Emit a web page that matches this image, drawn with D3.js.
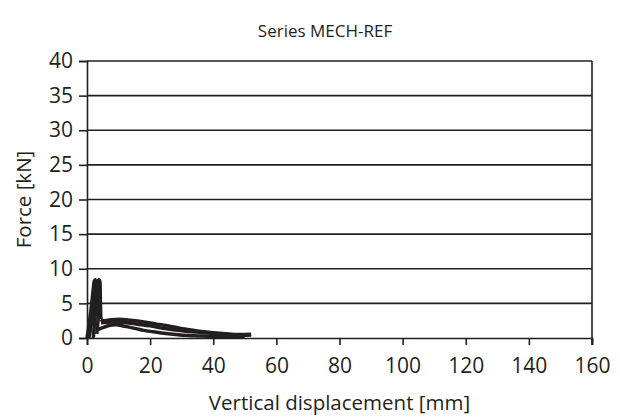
<!DOCTYPE html>
<html>
<head>
<meta charset="utf-8">
<script src="https://cdn.jsdelivr.net/npm/d3@7"></script>
<style>
  body { margin: 0; background: #fff; }
  text { font-family: "Open Sans", "Noto Sans", sans-serif; fill: #231f20; }
</style>
</head>
<body>
<div id="chart"></div>
<script>
// test record: displacement [mm] / force [kN]
const peakDisp  = [0, 0.4, 0.9, 1.4, 1.8, 2.1, 2.3, 2.6, 2.8, 2.7, 2.5, 2.2, 2.0, 2.4, 2.8, 3.2, 3.5, 3.7, 4.0, 4.2, 4.3, 4.4];
const peakForce = [0, 1.2, 2.8, 4.6, 6.3, 7.6, 8.2, 8.4, 7.8, 5.5, 3.0, 1.0, 0.1, 2.2, 4.5, 6.8, 8.0, 8.4, 8.3, 6.5, 4.2, 2.7];

const reloadDisp  = [0.6, 1.2, 1.8, 2.4, 2.9, 3.3, 3.6, 3.8, 3.7, 3.4, 3.1];
const reloadForce = [0, 1.5, 3.5, 5.6, 7.2, 8.0, 8.1, 7.2, 4.5, 2.0, 0.6];

const upperDisp  = [4.4, 5, 7, 10, 13, 16, 19, 22, 25, 28, 31, 34, 37, 40, 44, 48, 52];
const upperForce = [2.7, 2.5, 2.6, 2.7, 2.6, 2.45, 2.25, 2.0, 1.8, 1.55, 1.3, 1.1, 0.9, 0.75, 0.6, 0.5, 0.55];

const midDisp  = [4.4, 8, 12, 16, 20, 24, 28, 32, 36, 40, 45, 50, 52];
const midForce = [2.2, 2.3, 2.25, 2.0, 1.75, 1.4, 1.15, 0.95, 0.8, 0.65, 0.5, 0.4, 0.45];

const lowerDisp  = [3.5, 5, 7, 9, 12, 15.5, 18, 21, 25, 28, 32, 35, 42, 50];
const lowerForce = [1.2, 1.5, 1.8, 1.9, 1.7, 1.35, 1.1, 0.9, 0.65, 0.5, 0.35, 0.3, 0.2, 0.2];

const xTicks = [0, 20, 40, 60, 80, 100, 120, 140, 160];
const yTicks = [0, 5, 10, 15, 20, 25, 30, 35, 40];

const width = 620, height = 420;
const margin = {top: 61, right: 28, bottom: 82, left: 87};
const wi = width - margin.left - margin.right;
const hi = height - margin.top - margin.bottom;
const ink = "#231f20";

const svg = d3.select("#chart").append("svg")
    .attr("width", width)
    .attr("height", height);

const x = d3.scaleLinear().domain([0, 160]).range([0, wi]);
const y = d3.scaleLinear().domain([0, 40]).range([hi, 0]);

const g = svg.append("g")
    .attr("transform", "translate(" + margin.left + "," + margin.top + ")");

// horizontal grid
g.selectAll("line.grid")
    .data(yTicks.filter(function(d) { return d > 0; }))
    .enter().append("line")
    .attr("class", "grid")
    .attr("x1", 0).attr("x2", wi)
    .attr("y1", function(d) { return y(d); })
    .attr("y2", function(d) { return y(d); })
    .attr("stroke", ink)
    .attr("stroke-width", 1.6);

// right border
g.append("line")
    .attr("x1", wi).attr("x2", wi)
    .attr("y1", 0).attr("y2", hi + 7)
    .attr("stroke", ink)
    .attr("stroke-width", 1.6);

const xAxis = g.append("g")
    .attr("transform", "translate(0," + hi + ")")
    .call(d3.axisBottom(x).tickValues(xTicks).tickSize(7).tickPadding(13));
const yAxis = g.append("g")
    .call(d3.axisLeft(y).tickValues(yTicks).tickSize(8).tickPadding(6));

[xAxis, yAxis].forEach(function(a) {
    a.select(".domain").attr("stroke", ink).attr("stroke-width", 1.6);
    a.selectAll(".tick line").attr("stroke", ink).attr("stroke-width", 1.6);
    a.selectAll(".tick text")
        .style("font-size", "21px")
        .style("font-family", "'Open Sans', sans-serif")
        .attr("fill", ink);
});

// data curves
const line = d3.line()
    .x(function(d) { return x(d[0]); })
    .y(function(d) { return y(d[1]); })
    .curve(d3.curveCatmullRom);

const curves = [
    [peakDisp, peakForce],
    [reloadDisp, reloadForce],
    [upperDisp, upperForce],
    [midDisp, midForce],
    [lowerDisp, lowerForce]
];
curves.forEach(function(c) {
    g.append("path")
        .datum(d3.zip(c[0], c[1]))
        .attr("d", line)
        .attr("fill", "none")
        .attr("stroke", ink)
        .attr("stroke-width", 3.5)
        .attr("stroke-linejoin", "round");
});

// titles
svg.append("text")
    .text("Series MECH-REF")
    .attr("x", 325).attr("y", 37)
    .style("font-size", "17px")
    .style("text-anchor", "middle");

svg.append("text")
    .text("Vertical displacement [mm]")
    .attr("x", margin.left + wi / 2).attr("y", 410)
    .style("font-size", "20.5px")
    .style("text-anchor", "middle");

svg.append("text")
    .text("Force [kN]")
    .attr("transform", "translate(31," + (margin.top + hi / 2) + ") rotate(-90)")
    .style("font-size", "20.5px")
    .style("text-anchor", "middle");
</script>
</body>
</html>
